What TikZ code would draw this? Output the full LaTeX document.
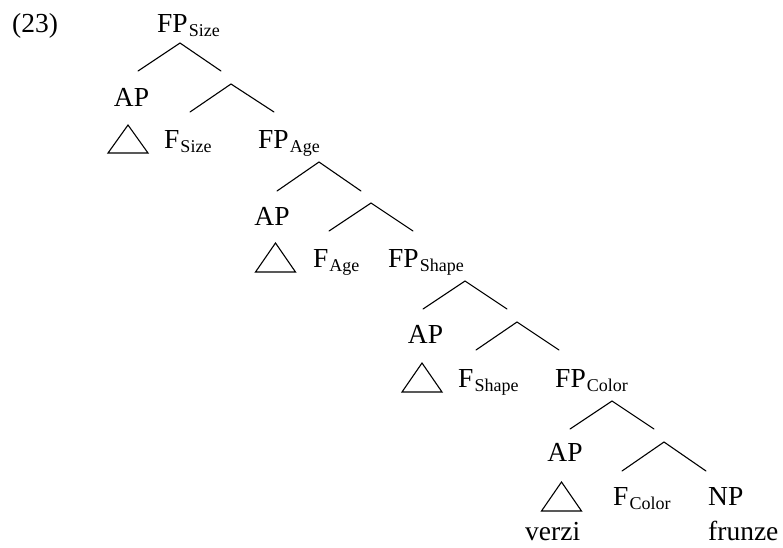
\documentclass[tikz,border=0pt]{standalone}
\usepackage{fontspec}
\setmainfont{Liberation Serif}
% label with a lowered, smaller feature name, e.g. FP with "Size"
\newcommand{\withsub}[2]{#1\kern1pt\raisebox{-4pt}{\fontsize{18}{20}\selectfont #2}}
\tikzset{
  lbl/.style={inner sep=0pt, font=\fontsize{27.5}{30}\selectfont},
  branch/.style={line width=1.1pt, line cap=round},
  tri/.style={line width=1.1pt, line join=miter}
}
\begin{document}
\begin{tikzpicture}[x=1pt,y=-1pt]
\useasboundingbox (0,0) rectangle (783,547);

% example number
\node[lbl, anchor=base west] (ex) at (12,32) {(23)};

% ---- level 0 : FP Size ----
\node[lbl, anchor=base west] (fpsize) at (157,32) {\withsub{FP}{Size}};
\node[lbl, anchor=base] (ap0) at (131.5,106) {AP};
\node[lbl, anchor=base west] (fsize) at (164,148) {\withsub{F}{Size}};
\coordinate (a0) at (180,43);
\coordinate (a0l) at (138,71);
\coordinate (a0r) at (221,71);
\coordinate (b0) at (231,84);
\coordinate (b0l) at (190,112);
\coordinate (b0r) at (274,112);
\draw[branch] (a0l) -- (a0) -- (a0r);
\draw[branch] (b0l) -- (b0) -- (b0r);
\coordinate (t0) at (128,125);
\coordinate (t0l) at (108,153);
\coordinate (t0r) at (148,153);
\draw[tri] (t0) -- (t0l) -- (t0r) -- cycle;

% ---- level 1 : FP Age ----
\node[lbl, anchor=base west] (fpage) at (258,148) {\withsub{FP}{Age}};
\node[lbl, anchor=base] (ap1) at (272,225) {AP};
\node[lbl, anchor=base west] (fage) at (313,267) {\withsub{F}{Age}};
\coordinate (a1) at (319,162);
\coordinate (a1l) at (277,191);
\coordinate (a1r) at (361,191);
\coordinate (b1) at (371,203);
\coordinate (b1l) at (329,231);
\coordinate (b1r) at (413,231);
\draw[branch] (a1l) -- (a1) -- (a1r);
\draw[branch] (b1l) -- (b1) -- (b1r);
\coordinate (t1) at (275.5,243);
\coordinate (t1l) at (255.5,272);
\coordinate (t1r) at (295.5,272);
\draw[tri] (t1) -- (t1l) -- (t1r) -- cycle;

% ---- level 2 : FP Shape ----
\node[lbl, anchor=base west] (fpshape) at (388,267) {\withsub{FP}{Shape}};
\node[lbl, anchor=base] (ap2) at (425.5,343) {AP};
\node[lbl, anchor=base west] (fshape) at (458,387) {\withsub{F}{Shape}};
\coordinate (a2) at (465,281);
\coordinate (a2l) at (423,309);
\coordinate (a2r) at (507,309);
\coordinate (b2) at (517,322);
\coordinate (b2l) at (476,350);
\coordinate (b2r) at (559,350);
\draw[branch] (a2l) -- (a2) -- (a2r);
\draw[branch] (b2l) -- (b2) -- (b2r);
\coordinate (t2) at (422,363);
\coordinate (t2l) at (402,392);
\coordinate (t2r) at (442,392);
\draw[tri] (t2) -- (t2l) -- (t2r) -- cycle;

% ---- level 3 : FP Color ----
\node[lbl, anchor=base west] (fpcolor) at (555,387) {\withsub{FP}{Color}};
\node[lbl, anchor=base] (ap3) at (565,461) {AP};
\node[lbl, anchor=base west] (fcolor) at (613,505) {\withsub{F}{Color}};
\node[lbl, anchor=base west] (np) at (708,505) {NP};
\node[lbl, anchor=base west] (verzi) at (525,540) {verzi};
\node[lbl, anchor=base west] (frunze) at (708,540) {frunze};
\coordinate (a3) at (612,401);
\coordinate (a3l) at (570,429);
\coordinate (a3r) at (654,429);
\coordinate (b3) at (664,442);
\coordinate (b3l) at (622,471);
\coordinate (b3r) at (706,471);
\draw[branch] (a3l) -- (a3) -- (a3r);
\draw[branch] (b3l) -- (b3) -- (b3r);
\coordinate (t3) at (561.5,482);
\coordinate (t3l) at (541.5,511);
\coordinate (t3r) at (581.5,511);
\draw[tri] (t3) -- (t3l) -- (t3r) -- cycle;
\end{tikzpicture}
\end{document}
